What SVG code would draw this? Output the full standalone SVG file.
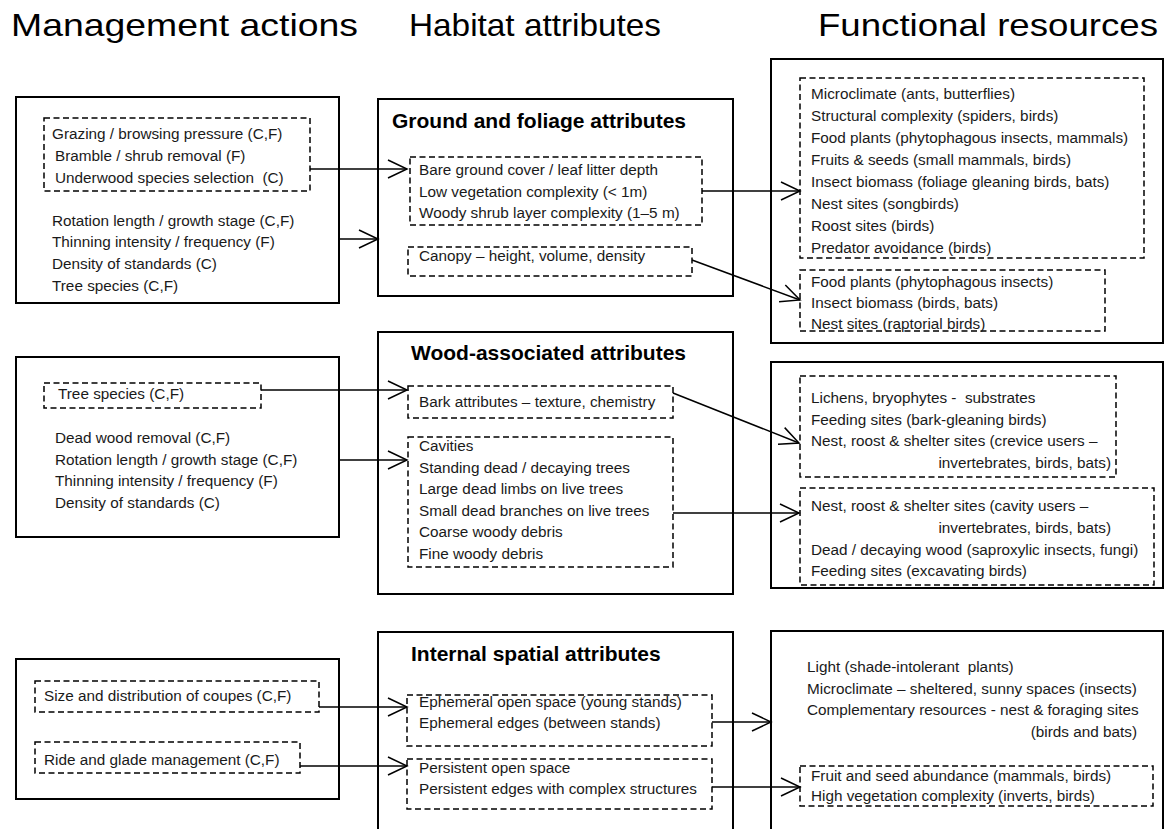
<svg xmlns="http://www.w3.org/2000/svg" width="1168" height="829" viewBox="0 0 1168 829">
<style>
text { font-family: "Liberation Sans", Arial, sans-serif; }
.title { font-size: 32px; fill: #000; }
.hd { font-size: 21px; font-weight: bold; fill: #000; }
.t { font-size: 15.3px; fill: #1a1a1a; }
.box { fill: #fff; stroke: #000; stroke-width: 2; }
.dash { fill: none; stroke: #000; stroke-width: 1.5; stroke-dasharray: 6 3.5; }
.con { fill: none; stroke: #000; stroke-width: 1.5; marker-end: url(#arr); }
</style>
<defs>
<marker id="arr" markerUnits="userSpaceOnUse" viewBox="0 0 22 22" markerWidth="22" markerHeight="22" refX="20" refY="11" orient="auto">
<path d="M1,2 L20,11 L1,20" fill="none" stroke="#000" stroke-width="1.5"/>
</marker>
</defs>
<rect width="1168" height="829" fill="#fff"/>

<g id="titles">
<text class="title" x="11" y="36" textLength="347" lengthAdjust="spacingAndGlyphs">Management actions</text>
<text class="title" x="409" y="36" textLength="252" lengthAdjust="spacingAndGlyphs">Habitat attributes</text>
<text class="title" x="818" y="36" textLength="340" lengthAdjust="spacingAndGlyphs">Functional resources</text>
</g>

<!-- Management actions -->
<g id="ma1">
<rect class="box" x="16" y="97" width="323" height="206"/>
<rect class="dash" x="44" y="118" width="266" height="73"/>
<text class="t" x="52" y="139">Grazing / browsing pressure (C,F)</text>
<text class="t" x="55" y="161">Bramble / shrub removal (F)</text>
<text class="t" x="55" y="183" xml:space="preserve">Underwood species selection  (C)</text>
<text class="t" x="52" y="225.5">Rotation length / growth stage (C,F)</text>
<text class="t" x="52" y="247.3">Thinning intensity / frequency (F)</text>
<text class="t" x="52" y="269">Density of standards (C)</text>
<text class="t" x="52" y="291">Tree species (C,F)</text>
</g>
<g id="ma2">
<rect class="box" x="16" y="357" width="323" height="180"/>
<rect class="dash" x="44" y="383" width="217" height="25"/>
<text class="t" x="58" y="399">Tree species (C,F)</text>
<text class="t" x="55" y="443">Dead wood removal (C,F)</text>
<text class="t" x="55" y="464.7">Rotation length / growth stage (C,F)</text>
<text class="t" x="55" y="486.4">Thinning intensity / frequency (F)</text>
<text class="t" x="55" y="508">Density of standards (C)</text>
</g>
<g id="ma3">
<rect class="box" x="16" y="659" width="323" height="140"/>
<rect class="dash" x="35" y="681" width="284" height="31"/>
<text class="t" x="44" y="701">Size and distribution of coupes (C,F)</text>
<rect class="dash" x="35" y="742" width="265" height="31"/>
<text class="t" x="44" y="765">Ride and glade management (C,F)</text>
</g>

<!-- Habitat attributes -->
<g id="ha1">
<rect class="box" x="378" y="99" width="355" height="197"/>
<text class="hd" x="392" y="128">Ground and foliage attributes</text>
<rect class="dash" x="410" y="157" width="292" height="68"/>
<text class="t" x="419" y="175">Bare ground cover / leaf litter depth</text>
<text class="t" x="419" y="196.7">Low vegetation complexity (&lt; 1m)</text>
<text class="t" x="419" y="218.4">Woody shrub layer complexity (1–5 m)</text>
<rect class="dash" x="408" y="247" width="284" height="29"/>
<text class="t" x="419" y="261">Canopy – height, volume, density</text>
</g>
<g id="ha2">
<rect class="box" x="378" y="332" width="355" height="262"/>
<text class="hd" x="411" y="360">Wood-associated attributes</text>
<rect class="dash" x="408" y="386" width="265" height="32"/>
<text class="t" x="419" y="407">Bark attributes – texture, chemistry</text>
<rect class="dash" x="408" y="437" width="265" height="130"/>
<text class="t" x="419" y="451">Cavities</text>
<text class="t" x="419" y="472.5">Standing dead / decaying trees</text>
<text class="t" x="419" y="494">Large dead limbs on live trees</text>
<text class="t" x="419" y="515.5">Small dead branches on live trees</text>
<text class="t" x="419" y="537">Coarse woody debris</text>
<text class="t" x="419" y="558.5">Fine woody debris</text>
</g>
<g id="ha3">
<rect class="box" x="378" y="632" width="355" height="220"/>
<text class="hd" x="411" y="661">Internal spatial attributes</text>
<rect class="dash" x="407" y="695" width="305" height="51"/>
<text class="t" x="419" y="706.5">Ephemeral open space (young stands)</text>
<text class="t" x="419" y="728">Ephemeral edges (between stands)</text>
<rect class="dash" x="407" y="759" width="305" height="50"/>
<text class="t" x="419" y="772.5">Persistent open space</text>
<text class="t" x="419" y="794">Persistent edges with complex structures</text>
</g>

<!-- Functional resources -->
<g id="fr1">
<rect class="box" x="771" y="59" width="392" height="284"/>
<rect class="dash" x="800" y="78" width="344" height="180"/>
<text class="t" x="811" y="99">Microclimate (ants, butterflies)</text>
<text class="t" x="811" y="121">Structural complexity (spiders, birds)</text>
<text class="t" x="811" y="143">Food plants (phytophagous insects, mammals)</text>
<text class="t" x="811" y="165">Fruits &amp; seeds (small mammals, birds)</text>
<text class="t" x="811" y="187">Insect biomass (foliage gleaning birds, bats)</text>
<text class="t" x="811" y="209">Nest sites (songbirds)</text>
<text class="t" x="811" y="231">Roost sites (birds)</text>
<text class="t" x="811" y="253">Predator avoidance (birds)</text>
<rect class="dash" x="800" y="270" width="305" height="61"/>
<text class="t" x="811" y="287">Food plants (phytophagous insects)</text>
<text class="t" x="811" y="308">Insect biomass (birds, bats)</text>
<text class="t" x="811" y="329">Nest sites (raptorial birds)</text>
</g>
<g id="fr2">
<rect class="box" x="771" y="362" width="392" height="226"/>
<rect class="dash" x="800" y="376" width="316" height="101"/>
<text class="t" x="811" y="403" xml:space="preserve">Lichens, bryophytes -  substrates</text>
<text class="t" x="811" y="424.5">Feeding sites (bark-gleaning birds)</text>
<text class="t" x="811" y="446">Nest, roost &amp; shelter sites (crevice users –</text>
<text class="t" x="1111" y="467.5" text-anchor="end">invertebrates, birds, bats)</text>
<rect class="dash" x="800" y="488" width="354" height="97"/>
<text class="t" x="811" y="511">Nest, roost &amp; shelter sites (cavity users –</text>
<text class="t" x="1111" y="532.5" text-anchor="end">invertebrates, birds, bats)</text>
<text class="t" x="811" y="554.5">Dead / decaying wood (saproxylic insects, fungi)</text>
<text class="t" x="811" y="576">Feeding sites (excavating birds)</text>
</g>
<g id="fr3">
<rect class="box" x="771" y="631" width="392" height="220"/>
<text class="t" x="807" y="672" xml:space="preserve">Light (shade-intolerant  plants)</text>
<text class="t" x="807" y="693.5">Microclimate – sheltered, sunny spaces (insects)</text>
<text class="t" x="807" y="715">Complementary resources - nest &amp; foraging sites</text>
<text class="t" x="1137" y="736.5" text-anchor="end">(birds and bats)</text>
<rect class="dash" x="800" y="766" width="353" height="40"/>
<text class="t" x="811" y="781">Fruit and seed abundance (mammals, birds)</text>
<text class="t" x="811" y="801">High vegetation complexity (inverts, birds)</text>
</g>

<g id="connectors">
<line class="con" x1="310" y1="169" x2="407" y2="169"/>
<line class="con" x1="339" y1="239" x2="378" y2="239"/>
<line class="con" x1="702" y1="191" x2="800" y2="191"/>
<line class="con" x1="692" y1="260" x2="800" y2="300"/>
<line class="con" x1="261" y1="390" x2="407" y2="390"/>
<line class="con" x1="339" y1="460" x2="407" y2="460"/>
<line class="con" x1="673" y1="393" x2="799" y2="443"/>
<line class="con" x1="673" y1="513" x2="799" y2="513"/>
<line class="con" x1="319" y1="707" x2="407" y2="707"/>
<line class="con" x1="300" y1="766" x2="407" y2="766"/>
<line class="con" x1="712" y1="722" x2="771" y2="722"/>
<line class="con" x1="712" y1="787" x2="800" y2="787"/>
</g>
</svg>
